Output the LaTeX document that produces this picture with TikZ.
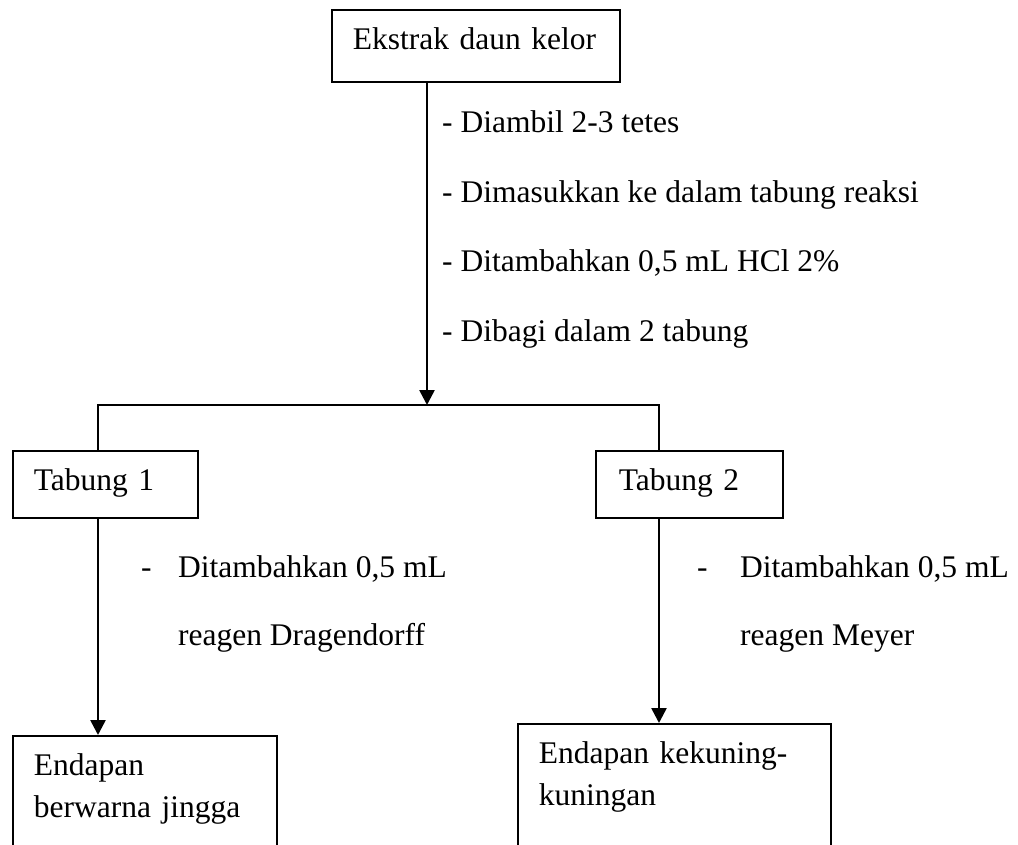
\documentclass[tikz,border=0pt]{standalone}
\usepackage{fontspec}
\setmainfont{Liberation Serif}
\usetikzlibrary{arrows.meta,positioning}
\pgfdeclarelayer{background}
\pgfdeclarelayer{edgelayer}
\pgfdeclarelayer{nodelayer}
\pgfsetlayers{background,edgelayer,nodelayer,main}
\tikzstyle{none}=[inner sep=0mm]
\tikzstyle{note}=[inner sep=0mm,anchor=base west]
\tikzstyle{box}=[draw=black,line width=1.8pt,anchor=north west,align=left,inner xsep=21pt,inner ysep=18pt,text height=22pt]
\tikzstyle{line}=[line width=1.8pt]
\tikzstyle{diredge}=[line width=2.6pt,-{Triangle[width=15pt,length=15pt]}]

\begin{document}
\begin{tikzpicture}[x=1pt,y=-1pt,font={\fontsize{31.5pt}{42pt}\selectfont}]
	\useasboundingbox (0,0) rectangle (1018,844);
	\begin{pgfonlayer}{background}
		\fill [white] (0,0) rectangle (1018,844);
	\end{pgfonlayer}
	\begin{pgfonlayer}{nodelayer}
		\clip (0,0) rectangle (1018,844);
		\node [style=box,text width=246pt,text depth=14pt] (ekstrak) at (331,9) {Ekstrak daun kelor};
		\node [style=note] (stepA) at (442,132) {- Diambil 2-3 tetes};
		\node [style=note] (stepB) at (442,202) {- Dimasukkan ke dalam tabung reaksi};
		\node [style=note] (stepC) at (442,271) {- Ditambahkan 0,5 mL HCl 2\%};
		\node [style=note] (stepD) at (442,341) {- Dibagi dalam 2 tabung};
		\node [style=box,text width=143pt,text depth=9pt] (tabung1) at (12,450) {Tabung 1};
		\node [style=box,text width=141pt,text depth=9pt,inner xsep=23pt] (tabung2) at (595,450) {Tabung 2};
		\node [style=note] (reagA) at (141,577) {\begin{tabular}[t]{@{}p{37pt}@{}l@{}}-&Ditambahkan 0,5 mL\\[26pt]&reagen Dragendorff\end{tabular}};
		\node [style=note] (reagB) at (697,577) {\begin{tabular}[t]{@{}p{43pt}@{}l@{}}-&Ditambahkan 0,5 mL\\[26pt]&reagen Meyer\end{tabular}};
		\node [style=box,text width=222pt,text depth=100pt] (endapanA) at (12,735) {Endapan\\berwarna jingga};
		\node [style=box,text width=271pt,text depth=100pt] (endapanB) at (517,723) {Endapan kekuning-\\kuningan};
		\coordinate (split) at (427,405);
		\coordinate (splitL) at (98,405);
		\coordinate (splitR) at (659,405);
	\end{pgfonlayer}
	\begin{pgfonlayer}{edgelayer}
		\draw [style=diredge] (ekstrak.south -| split) to (split);
		\draw [style=line] (tabung1.north -| splitL) -- (splitL) -- (splitR) -- (tabung2.north -| splitR);
		\draw [style=diredge] (tabung1.south -| splitL) to (endapanA.north -| splitL);
		\draw [style=diredge] (tabung2.south -| splitR) to (endapanB.north -| splitR);
	\end{pgfonlayer}
\end{tikzpicture}
\end{document}
